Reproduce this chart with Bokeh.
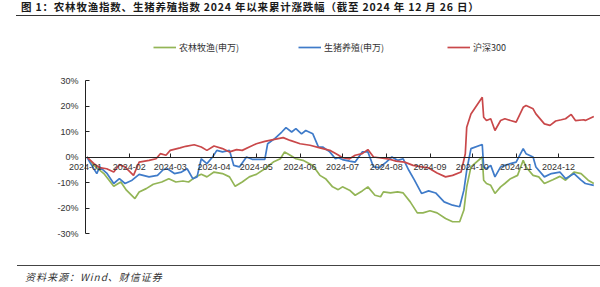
from datetime import datetime, timedelta
import pandas as pd
from bokeh.plotting import figure
from bokeh.models import (Range1d, FixedTicker, DatetimeTickFormatter, CustomJSTickFormatter,
                          Legend, LegendItem, Div)
from bokeh.layouts import column
from bokeh.embed import file_html
from bokeh.resources import INLINE

# ---------------- data (cumulative change since start of 2024, %) ----------------
green_dates = ["2024-01-02", "2024-01-07", "2024-01-14", "2024-01-21", "2024-01-26", "2024-01-30",
               "2024-02-05", "2024-02-08", "2024-02-13", "2024-02-18", "2024-02-24", "2024-02-29",
               "2024-03-05", "2024-03-10", "2024-03-14", "2024-03-19", "2024-03-23", "2024-03-27",
               "2024-04-01", "2024-04-07", "2024-04-12", "2024-04-16", "2024-04-21", "2024-04-26",
               "2024-05-01", "2024-05-07", "2024-05-13", "2024-05-18", "2024-05-21", "2024-05-25",
               "2024-05-29", "2024-06-03", "2024-06-10", "2024-06-15", "2024-06-19", "2024-06-24",
               "2024-06-28", "2024-07-01", "2024-07-06", "2024-07-10", "2024-07-15", "2024-07-19",
               "2024-07-24", "2024-07-28", "2024-07-30", "2024-08-04", "2024-08-09", "2024-08-13",
               "2024-08-18", "2024-08-23", "2024-08-27", "2024-09-01", "2024-09-06", "2024-09-12",
               "2024-09-17", "2024-09-22", "2024-09-25", "2024-09-27", "2024-09-30", "2024-10-08",
               "2024-10-09", "2024-10-11", "2024-10-14", "2024-10-17", "2024-10-21", "2024-10-24",
               "2024-10-28", "2024-11-02", "2024-11-06", "2024-11-08", "2024-11-13", "2024-11-17",
               "2024-11-21", "2024-11-27", "2024-12-02", "2024-12-06", "2024-12-12", "2024-12-17",
               "2024-12-22", "2024-12-26"]
green_vals = [0.0, -3.3, -6.5, -11.5, -9.8, -13.0,
              -16.3, -13.7, -12.4, -10.7, -9.8, -8.5,
              -9.8, -9.4, -9.8, -7.8, -6.8, -7.8,
              -5.9, -6.5, -7.8, -11.5, -9.8, -7.8,
              -6.8, -4.6, -2.0, -0.7, 2.0, 0.7,
              -0.7, -1.3, -3.3, -7.2, -8.5, -11.7,
              -12.8, -11.7, -13.0, -15.0, -13.3, -11.7,
              -15.0, -15.6, -13.7, -14.1, -13.7, -14.1,
              -17.6, -21.9, -21.9, -21.1, -21.9, -24.1,
              -25.4, -25.4, -20.8, -11.7, -3.9, 0.0,
              -9.1, -10.4, -11.1, -14.3, -11.7, -10.4,
              -8.5, -7.2, -1.3, -3.9, -7.2, -7.8,
              -10.4, -8.9, -7.6, -9.1, -5.9, -6.5,
              -9.1, -10.4]

blue_dates = ["2024-01-02", "2024-01-04", "2024-01-09", "2024-01-11", "2024-01-16", "2024-01-21",
              "2024-01-25", "2024-01-29", "2024-02-03", "2024-02-08", "2024-02-15", "2024-02-21",
              "2024-02-25", "2024-02-28", "2024-03-04", "2024-03-09", "2024-03-13", "2024-03-17",
              "2024-03-20", "2024-03-23", "2024-03-27", "2024-03-31", "2024-04-03", "2024-04-07",
              "2024-04-12", "2024-04-15", "2024-04-19", "2024-04-24", "2024-04-28", "2024-05-07",
              "2024-05-09", "2024-05-14", "2024-05-19", "2024-05-22", "2024-05-26", "2024-05-29",
              "2024-06-02", "2024-06-05", "2024-06-10", "2024-06-14", "2024-06-17", "2024-06-22",
              "2024-06-26", "2024-06-28", "2024-07-01", "2024-07-06", "2024-07-10", "2024-07-15",
              "2024-07-19", "2024-07-23", "2024-07-27", "2024-08-01", "2024-08-05", "2024-08-09",
              "2024-08-13", "2024-08-17", "2024-08-21", "2024-08-26", "2024-08-31", "2024-09-05",
              "2024-09-11", "2024-09-17", "2024-09-22", "2024-09-25", "2024-09-27", "2024-09-30",
              "2024-10-08", "2024-10-09", "2024-10-11", "2024-10-14", "2024-10-17", "2024-10-21",
              "2024-10-24", "2024-10-28", "2024-11-01", "2024-11-06", "2024-11-08", "2024-11-13",
              "2024-11-15", "2024-11-21", "2024-11-26", "2024-12-02", "2024-12-06", "2024-12-12",
              "2024-12-17", "2024-12-20", "2024-12-26"]
blue_vals = [0.0, -2.0, -6.5, -3.9, -6.3, -10.4,
             -8.5, -10.4, -9.1, -6.8, -7.8, -7.2,
             -5.0, -4.6, -6.5, -5.9, -4.6, -8.5,
             -7.8, -0.7, -2.6, 0.0, 2.6, 2.0,
             2.6, -3.3, -3.9, 0.0, -0.9, -0.9,
             5.2, 7.2, 9.8, 11.5, 9.8, 11.1,
             9.1, 10.4, 9.1, 3.9, 3.9, 2.0,
             -0.7, -0.3, -1.0, -1.6, -2.0, 2.0,
             2.0, -3.9, -4.2, -2.0, 0.0, -1.3,
             -0.7, -5.2, -9.1, -14.3, -13.3, -14.1,
             -17.6, -18.9, -19.5, -13.0, -5.2, 3.3,
             4.9, -3.9, -4.6, -3.3, -7.8, -3.9,
             -3.3, -2.6, -2.0, 3.3, 1.3, 0.0,
             -3.9, -7.8, -6.5, -5.9, -8.5, -6.5,
             -9.1, -10.4, -11.1]

red_dates = ["2024-01-02", "2024-01-07", "2024-01-11", "2024-01-16", "2024-01-21", "2024-01-25",
             "2024-01-29", "2024-02-04", "2024-02-08", "2024-02-15", "2024-02-20", "2024-02-23",
             "2024-02-27", "2024-03-01", "2024-03-08", "2024-03-12", "2024-03-18", "2024-03-23",
             "2024-03-27", "2024-04-01", "2024-04-07", "2024-04-12", "2024-04-17", "2024-04-21",
             "2024-04-26", "2024-05-01", "2024-05-07", "2024-05-13", "2024-05-20", "2024-05-25",
             "2024-06-01", "2024-06-08", "2024-06-15", "2024-06-22", "2024-06-28", "2024-07-01",
             "2024-07-06", "2024-07-10", "2024-07-15", "2024-07-19", "2024-07-23", "2024-07-27",
             "2024-08-02", "2024-08-08", "2024-08-14", "2024-08-20", "2024-08-26", "2024-08-31",
             "2024-09-06", "2024-09-12", "2024-09-17", "2024-09-23", "2024-09-26", "2024-09-27",
             "2024-09-30", "2024-10-08", "2024-10-09", "2024-10-11", "2024-10-14", "2024-10-17",
             "2024-10-21", "2024-10-24", "2024-10-28", "2024-11-01", "2024-11-06", "2024-11-08",
             "2024-11-13", "2024-11-15", "2024-11-21", "2024-11-25", "2024-11-29", "2024-12-03",
             "2024-12-06", "2024-12-10", "2024-12-13", "2024-12-19", "2024-12-20", "2024-12-26"]
red_vals = [0.0, -2.6, -4.2, -4.6, -5.9, -3.0,
            -3.9, -7.2, -2.0, -1.3, -0.7, 1.3,
            0.7, 2.6, 3.6, 4.2, 4.8, 3.9,
            2.6, 4.3, 3.3, 2.0, 2.9, 2.6,
            3.9, 5.2, 6.1, 6.8, 7.6, 6.5,
            5.2, 4.6, 3.6, 2.6, 0.8, -0.3,
            -0.7, 0.7, 1.3, 2.9, 0.0, -0.3,
            -0.7, -1.6, -2.0, -3.3, -3.9, -4.3,
            -6.3, -7.8, -7.2, -5.9, 1.3, 11.7,
            16.9, 23.4, 15.6, 14.3, 15.0, 10.4,
            14.3, 15.0, 14.3, 13.7, 19.5, 20.2,
            18.9, 16.9, 13.0, 12.4, 14.1, 14.6,
            15.0, 16.7, 14.3, 14.6, 14.3, 15.9]

series_names = ["农林牧渔(申万)", "生猪养殖(申万)", "沪深300"]
series_colors = ["#93B556", "#3F7BC9", "#C9484A"]
y_ticks = [-30, -20, -10, 0, 10, 20, 30]
month_starts = pd.date_range("2024-01-01", periods=12, freq="MS")

title_text = "图 1：农林牧渔指数、生猪养殖指数 2024 年以来累计涨跌幅（截至 2024 年 12 月 26 日）"
source_text = "资料来源：Wind、财信证券"

# ---------------- layout geometry (pixels inside the 600x247 figure) ----------------
FIG_W, FIG_H = 600, 247
FRAME_L, FRAME_R = 40, 594          # plotting frame
FRAME_T, FRAME_B = 0, 222
AXIS_X = 85                          # where the y axis sits
Y_TOP_PX, Y_BOT_PX = 62, 215         # +30% and -30%

x_start, x_end = datetime(2024, 1, 1), datetime(2024, 12, 26, 12)
px_per_day = (FRAME_R - AXIS_X) / ((x_end - x_start).total_seconds() / 86400)
x_lo = x_start - timedelta(days=(AXIS_X - FRAME_L) / px_per_day)
px_per_unit = (Y_BOT_PX - Y_TOP_PX) / 60.0
y_hi = 30 + (Y_TOP_PX - FRAME_T) / px_per_unit
y_lo = -30 - (FRAME_B - Y_BOT_PX) / px_per_unit


def ms(d):
    return pd.Timestamp(d).timestamp() * 1000.0


p = figure(width=FIG_W, height=FIG_H, x_axis_type="datetime", output_backend="svg",
           toolbar_location=None, min_border_left=FRAME_L, min_border_right=FIG_W - FRAME_R,
           min_border_top=FRAME_T, min_border_bottom=FIG_H - FRAME_B,
           x_range=Range1d(ms(x_lo), ms(x_end)), y_range=Range1d(y_lo, y_hi))
p.outline_line_color = None
p.xgrid.visible = False
p.ygrid.visible = False
p.background_fill_color = "white"
p.border_fill_color = "white"

renderers = []
for d, v, c in zip([green_dates, blue_dates, red_dates], [green_vals, blue_vals, red_vals], series_colors):
    r = p.line(pd.to_datetime(d), v, line_color=c, line_width=1.7)
    renderers.append(r)

xa = p.xaxis[0]
xa.fixed_location = 0
xa.bounds = (ms(x_start), ms(x_end))
xa.ticker = FixedTicker(ticks=[ms(t) for t in month_starts])
xa.formatter = DatetimeTickFormatter(days="%Y-%m", months="%Y-%m", years="%Y-%m")
xa.major_tick_in = 4
xa.major_tick_out = 0
xa.minor_tick_in = 0
xa.minor_tick_out = 0
xa.major_label_standoff = 7
xa.axis_line_color = "#222222"
xa.major_tick_line_color = "#222222"
xa.major_label_text_font = "Liberation Sans"
xa.major_label_text_font_size = "9px"
xa.major_label_text_color = "#333333"

ya = p.yaxis[0]
ya.fixed_location = ms(x_start)
ya.bounds = (-30, 30)
ya.ticker = FixedTicker(ticks=y_ticks)
ya.formatter = CustomJSTickFormatter(code="return Math.round(tick) + '%';")
ya.major_tick_in = 4
ya.major_tick_out = 0
ya.minor_tick_in = 0
ya.minor_tick_out = 0
ya.major_label_standoff = 7
ya.axis_line_color = "#222222"
ya.major_tick_line_color = "#222222"
ya.major_label_text_font = "Liberation Sans"
ya.major_label_text_font_size = "9px"
ya.major_label_text_color = "#333333"

legend_x = [153, 298, 447]
for name, r, lx in zip(series_names, renderers, legend_x):
    lg = Legend(items=[LegendItem(label=name, renderers=[r])],
                location=(lx - FRAME_L, FRAME_B - 36),
                orientation="horizontal", padding=0, margin=0, spacing=0,
                glyph_width=23, glyph_height=14, label_height=14, label_standoff=3,
                label_text_font="Noto Sans CJK SC", label_text_font_size="9px",
                label_text_color="#333333", background_fill_alpha=0, border_line_alpha=0)
    p.add_layout(lg)

title_div = Div(width=600, height=18, margin=0, text=(
    '<div style="position:relative;width:600px;height:18px;">'
    '<div style="position:absolute;left:21px;top:0px;font-family:\'Noto Sans CJK SC\';'
    'font-weight:bold;font-size:10.5px;line-height:14px;letter-spacing:0.8px;color:#1a1a1a;'
    'white-space:nowrap;">' + title_text + '</div>'
    '<div style="position:absolute;left:16px;width:584px;top:15px;height:0;'
    'border-top:1.5px solid #333;"></div></div>'))

source_div = Div(width=600, height=22, margin=0, text=(
    '<div style="position:relative;width:600px;height:22px;">'
    '<div style="position:absolute;left:17px;width:583px;top:0px;height:0;'
    'border-top:1.2px solid #444;"></div>'
    '<div style="position:absolute;left:25px;top:5px;font-family:\'Noto Sans CJK SC\';'
    'font-style:italic;font-size:10px;line-height:13px;letter-spacing:1px;color:#333;'
    'white-space:nowrap;">' + source_text + '</div></div>'))

layout = column(title_div, p, source_div, spacing=0)
open("out.html", "w").write(file_html(layout, INLINE))
